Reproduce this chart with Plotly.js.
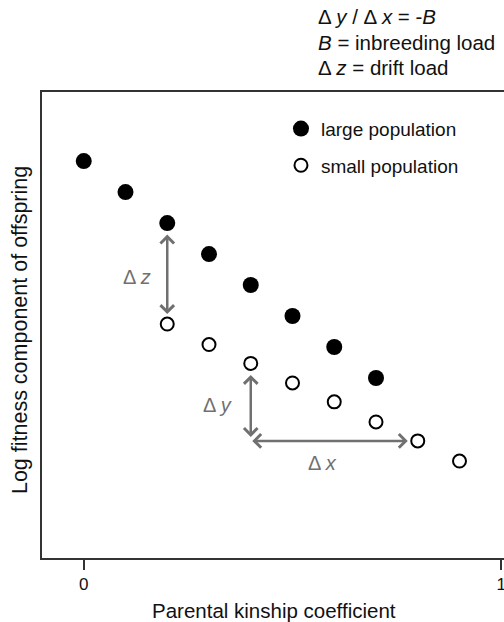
<!DOCTYPE html>
<html>
<head>
<meta charset="utf-8">
<script src="https://cdn.plot.ly/plotly-3.0.1.min.js"></script>
<style>
  html, body { margin: 0; padding: 0; overflow: hidden; background: #fff; }
  #chart { width: 600px; height: 622px; }
</style>
</head>
<body>
<div id="chart"></div>
<script>
// Parental kinship coefficient for each cross
const kinshipLarge = [0, 0.1, 0.2, 0.3, 0.4, 0.5, 0.6, 0.7];
const kinshipSmall = [0.2, 0.3, 0.4, 0.5, 0.6, 0.7, 0.8, 0.9];

// Log fitness component of offspring (arbitrary units)
const fitnessLarge = [0, -1, -2, -3, -4, -5, -6, -7];
const fitnessSmall = [-5.26, -5.92, -6.53, -7.16, -7.77, -8.42, -9.03, -9.68];

const seriesNames = ['large population', 'small population'];
const xTickVals = [0, 1];
const xTickText = ['0', '1'];

const FONT = 'Liberation Sans, Arial, Helvetica, sans-serif';
const INK = '#111111';
const ARROW = '#707070';

const traces = [
  {
    x: kinshipLarge, y: fitnessLarge, name: seriesNames[0],
    type: 'scatter', mode: 'markers', legendgroup: 'a',
    marker: { symbol: 'circle', size: 16, color: '#000000' },
    hoverinfo: 'skip'
  },
  {
    x: kinshipSmall, y: fitnessSmall, name: seriesNames[1],
    type: 'scatter', mode: 'markers', legendgroup: 'b',
    marker: { symbol: 'circle-open', size: 13, color: '#000000', line: { width: 2, color: '#000000' } },
    hoverinfo: 'skip'
  }
];

// Double-headed arrows anchored on the data points
const arrowBase = {
  xref: 'x', yref: 'y', axref: 'x', ayref: 'y',
  text: '', showarrow: true, arrowside: 'end+start',
  arrowhead: 4, startarrowhead: 4, arrowsize: 1.05, startarrowsize: 1.05,
  arrowwidth: 2.5, arrowcolor: ARROW
};

const i08 = kinshipSmall.indexOf(0.8);
const i04 = kinshipSmall.indexOf(0.4);
const i02L = kinshipLarge.indexOf(0.2);
const i02S = kinshipSmall.indexOf(0.2);

const labelFont = { family: FONT, size: 20, color: ARROW };
const noteFont = { family: FONT, size: 20.5, color: INK };

const annotations = [
  // Δz: drift load between large and small population at the same kinship
  Object.assign({}, arrowBase, {
    x: kinshipSmall[i02S], y: fitnessSmall[i02S],
    ax: kinshipLarge[i02L], ay: fitnessLarge[i02L],
    standoff: 10, startstandoff: 10
  }),
  // Δy: vertical drop along the small-population series
  Object.assign({}, arrowBase, {
    x: kinshipSmall[i04], y: fitnessSmall[i08],
    ax: kinshipSmall[i04], ay: fitnessSmall[i04],
    standoff: 4, startstandoff: 10
  }),
  // Δx: horizontal run along the small-population series
  Object.assign({}, arrowBase, {
    x: kinshipSmall[i08], y: fitnessSmall[i08],
    ax: kinshipSmall[i04], ay: fitnessSmall[i08],
    standoff: 10, startstandoff: 0
  }),
  {
    xref: 'x', yref: 'y', x: kinshipLarge[i02L],
    y: (fitnessLarge[i02L] + fitnessSmall[i02S]) / 2,
    text: 'Δ <i>z</i>', showarrow: false, xanchor: 'right', yanchor: 'middle',
    xshift: -14, yshift: -3, font: labelFont
  },
  {
    xref: 'x', yref: 'y', x: kinshipSmall[i04],
    y: (fitnessSmall[i04] + fitnessSmall[i08]) / 2,
    text: 'Δ <i>y</i>', showarrow: false, xanchor: 'right', yanchor: 'middle',
    xshift: -17, yshift: -3, font: labelFont
  },
  {
    xref: 'x', yref: 'y', x: (kinshipSmall[i04] + kinshipSmall[i08]) / 2,
    y: fitnessSmall[i08],
    text: 'Δ <i>x</i>', showarrow: false, xanchor: 'center', yanchor: 'middle',
    xshift: -12, yshift: -22, font: labelFont
  },
  // Key to the symbols, above the frame
  {
    xref: 'paper', yref: 'paper', x: 0.547, y: 1.161, xanchor: 'left', yanchor: 'middle',
    text: 'Δ <i>y</i> / Δ <i>x</i> = -<i>B</i>', showarrow: false, font: noteFont
  },
  {
    xref: 'paper', yref: 'paper', x: 0.547, y: 1.107, xanchor: 'left', yanchor: 'middle',
    text: '<i>B</i> = inbreeding load', showarrow: false, font: noteFont
  },
  {
    xref: 'paper', yref: 'paper', x: 0.547, y: 1.053, xanchor: 'left', yanchor: 'middle',
    text: 'Δ <i>z</i> = drift load', showarrow: false, font: noteFont
  },
  // Axis titles
  {
    xref: 'paper', yref: 'paper', x: 0.463, y: -0.112, xanchor: 'center', yanchor: 'middle',
    text: 'Parental kinship coefficient', showarrow: false,
    font: { family: FONT, size: 20.5, color: INK }
  },
  {
    xref: 'paper', yref: 'paper', x: -0.044, y: 0.489, xanchor: 'center', yanchor: 'middle',
    textangle: -90, text: 'Log fitness component of offspring', showarrow: false,
    font: { family: FONT, size: 21.5, color: INK }
  }
];

const layout = {
  width: 600, height: 622,
  margin: { l: 42, r: 57, t: 92, b: 64 },
  paper_bgcolor: '#ffffff', plot_bgcolor: '#ffffff',
  font: { family: FONT, color: INK },
  showlegend: true,
  legend: {
    x: 0.477, y: 0.962, xanchor: 'left', yanchor: 'top',
    bgcolor: 'rgba(0,0,0,0)', borderwidth: 0,
    traceorder: 'grouped', tracegroupgap: 9,
    font: { family: FONT, size: 19, color: INK }
  },
  xaxis: {
    range: [-0.1, 1.1], tickvals: xTickVals, ticktext: xTickText,
    ticks: 'outside', ticklen: 10, tickwidth: 2, tickcolor: '#333333',
    showline: true, linewidth: 2, linecolor: '#333333', mirror: true,
    showgrid: false, zeroline: false,
    tickfont: { family: FONT, size: 17, color: INK }
  },
  yaxis: {
    range: [-12.81, 2.23],
    showticklabels: false, ticks: '',
    showline: true, linewidth: 2, linecolor: '#333333', mirror: true,
    showgrid: false, zeroline: false
  },
  annotations: annotations
};

Plotly.newPlot('chart', traces, layout, { displayModeBar: false, staticPlot: true });
</script>
</body>
</html>
